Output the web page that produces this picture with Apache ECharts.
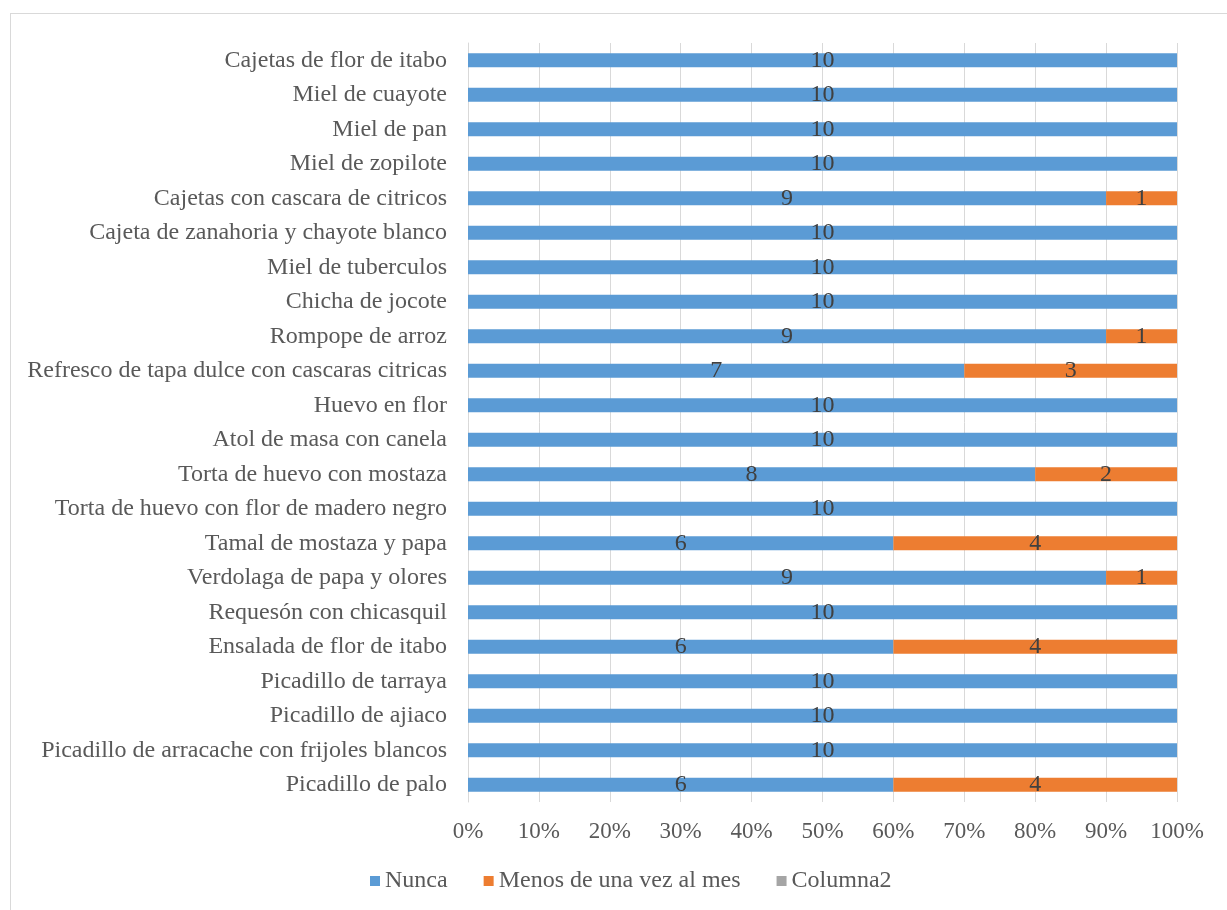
<!DOCTYPE html>
<html>
<head>
<meta charset="utf-8">
<script src="https://cdn.jsdelivr.net/npm/echarts@6/dist/echarts.min.js"></script>
<style>
  html, body { margin: 0; padding: 0; background: #fff; }
  #frame { position: absolute; left: 10px; top: 13px; width: 1220px; height: 900px; border: 1px solid #d9d9d9; box-sizing: border-box; }
  #chart { position: absolute; left: 0; top: 0; width: 1227px; height: 910px; }
</style>
</head>
<body>
<div id="frame"></div>
<div id="chart"></div>
<script>
// categorias de abajo hacia arriba
const categories = [
  'Picadillo de palo',
  'Picadillo de arracache con frijoles blancos',
  'Picadillo de ajiaco',
  'Picadillo de tarraya',
  'Ensalada de flor de itabo',
  'Requesón con chicasquil',
  'Verdolaga de papa y olores',
  'Tamal de mostaza y papa',
  'Torta de huevo con flor de madero negro',
  'Torta de huevo con mostaza',
  'Atol de masa con canela',
  'Huevo en flor',
  'Refresco de tapa dulce con cascaras citricas',
  'Rompope de arroz',
  'Chicha de jocote',
  'Miel de tuberculos',
  'Cajeta de zanahoria y chayote blanco',
  'Cajetas con cascara de citricos',
  'Miel de zopilote',
  'Miel de pan',
  'Miel de cuayote',
  'Cajetas de flor de itabo'
];
const nunca = [6, 10, 10, 10, 6, 10, 9, 6, 10, 8, 10, 10, 7, 9, 10, 10, 10, 9, 10, 10, 10, 10];
const menos = [4, 0, 0, 0, 4, 0, 1, 4, 0, 2, 0, 0, 3, 1, 0, 0, 0, 1, 0, 0, 0, 0];
const columna2 = [0, 0, 0, 0, 0, 0, 0, 0, 0, 0, 0, 0, 0, 0, 0, 0, 0, 0, 0, 0, 0, 0];
const xTicks = ['0%', '10%', '20%', '30%', '40%', '50%', '60%', '70%', '80%', '90%', '100%'];

const FONT = '"Liberation Serif", "DejaVu Serif", serif';
const totals = categories.map((_, i) => nunca[i] + menos[i] + columna2[i]);
const pct = (arr) => arr.map((v, i) => ({ value: totals[i] ? v / totals[i] * 100 : 0, raw: v }));

const labelOpt = {
  show: true,
  position: 'inside',
  color: '#404040',
  fontFamily: FONT,
  fontSize: 24,
  formatter: (p) => p.data.raw > 0 ? String(p.data.raw) : ''
};

const chart = echarts.init(document.getElementById('chart'));
chart.setOption({
  animation: false,
  textStyle: { fontFamily: FONT },
  grid: { left: 468, right: 50, top: 43, bottom: 108, containLabel: false },
  legend: {
    bottom: 12,
    left: 365,
    itemWidth: 10,
    itemHeight: 10,
    itemGap: 36,
    icon: 'rect',
    textStyle: { fontFamily: FONT, fontSize: 24, color: '#595959' },
    data: ['Nunca', 'Menos de una vez al mes', 'Columna2']
  },
  xAxis: {
    type: 'value',
    min: 0,
    max: 100,
    interval: 10,
    axisLine: { show: false },
    axisTick: { show: false },
    splitLine: { lineStyle: { color: '#d9d9d9', width: 1 } },
    axisLabel: {
      fontFamily: FONT, fontSize: 23, color: '#595959', margin: 18,
      formatter: (v) => xTicks[Math.round(v / 10)]
    }
  },
  yAxis: {
    type: 'category',
    data: categories,
    axisLine: { show: true, lineStyle: { color: '#d9d9d9' } },
    axisTick: { show: false },
    axisLabel: { fontFamily: FONT, fontSize: 24, color: '#595959', margin: 21 }
  },
  series: [
    {
      name: 'Nunca', type: 'bar', stack: 'total', barWidth: 14,
      itemStyle: { color: '#5b9bd5' },
      label: labelOpt,
      data: pct(nunca)
    },
    {
      name: 'Menos de una vez al mes', type: 'bar', stack: 'total', barWidth: 14,
      itemStyle: { color: '#ed7d31' },
      label: labelOpt,
      data: pct(menos)
    },
    {
      name: 'Columna2', type: 'bar', stack: 'total', barWidth: 14,
      itemStyle: { color: '#a5a5a5' },
      label: labelOpt,
      data: pct(columna2)
    }
  ]
});
</script>
</body>
</html>
